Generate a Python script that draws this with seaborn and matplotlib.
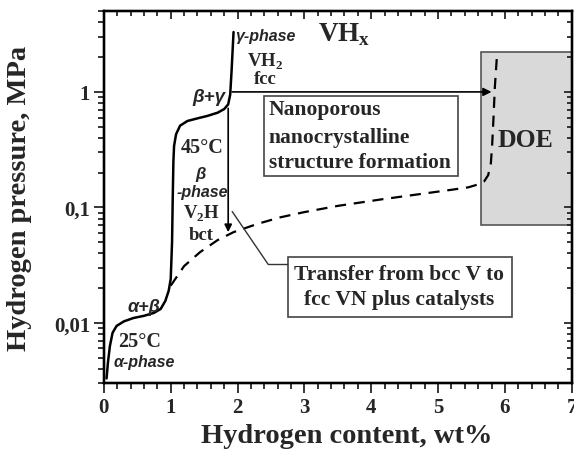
import matplotlib
matplotlib.use("Agg")
import matplotlib.pyplot as plt
from matplotlib.patches import Rectangle
from matplotlib.ticker import FixedLocator, MultipleLocator, LogLocator, NullFormatter
import seaborn as sns
import pandas as pd

# isotherm of VHx (solid)
iso_x = [0.04, 0.06, 0.09, 0.13, 0.19, 0.30, 0.44, 0.60, 0.75, 0.85, 0.92, 0.97, 1.00,
         1.02, 1.03, 1.04, 1.05, 1.08, 1.14, 1.25, 1.40, 1.55, 1.70, 1.80, 1.86, 1.89, 1.91, 1.94]
iso_p = [0.0033, 0.0045, 0.0063, 0.0082, 0.0094, 0.0103, 0.0110, 0.0115, 0.0122, 0.0132, 0.0155,
         0.019, 0.024, 0.05, 0.12, 0.25, 0.34, 0.43, 0.51, 0.56, 0.59, 0.62, 0.66, 0.71, 0.78,
         0.95, 1.5, 3.3]

# target curve (dashed)
tgt_x = [1.00, 1.20, 1.44, 1.70, 1.94, 2.30, 2.64, 3.00, 3.50, 4.14, 4.80, 5.20, 5.45, 5.60,
         5.69, 5.75, 5.79, 5.81, 5.83, 5.85, 5.88]
tgt_p = [0.021, 0.031, 0.041, 0.052, 0.061, 0.072, 0.082, 0.091, 0.103, 0.117, 0.132, 0.142,
         0.149, 0.158, 0.168, 0.19, 0.24, 0.35, 0.6, 1.1, 2.0]

x_ticks = [0, 1, 2, 3, 4, 5, 6, 7]
y_ticks = [0.01, 0.1, 1]
y_labels = ["0,01", "0,1", "1"]

sns.set_style("ticks")
plt.rcParams["font.family"] = ["Liberation Serif", "DejaVu Serif"]
plt.rcParams["font.weight"] = "bold"
plt.rcParams["mathtext.fontset"] = "custom"
plt.rcParams["mathtext.rm"] = "Liberation Serif:bold"
plt.rcParams["mathtext.bf"] = "Liberation Serif:bold"

fig = plt.figure(figsize=(5.74, 4.52), dpi=100)
ax = fig.add_axes([0.181, 0.150, 0.815, 0.823])

iso = pd.DataFrame({"x": iso_x, "p": iso_p})
tgt = pd.DataFrame({"x": tgt_x, "p": tgt_p})
sns.lineplot(data=iso, x="x", y="p", ax=ax, color="black", lw=1.8, sort=False)
sns.lineplot(data=tgt, x="x", y="p", ax=ax, color="black", lw=1.6, sort=False,
             linestyle=(0, (5, 3.5)))

ax.set_yscale("log")
ax.set_xlim(0, 7)
ax.set_ylim(0.003, 5)

# DOE region
ax.add_patch(Rectangle((5.65, 0.071), 1.35, 2.22 - 0.071, facecolor="#d9d9d9",
                       edgecolor="#555555", lw=1.2, zorder=0))
ax.text(6.31, 0.39, "DOE", fontsize=18.5, ha="center", va="center")

# boxes
ax.add_patch(Rectangle((2.39, 0.187), 5.30 - 2.39, 0.92 - 0.187, facecolor="white",
                       edgecolor="#444444", lw=1.2, zorder=1))
for txt, yy in zip(["Nanoporous", "nanocrystalline", "structure formation"], [0.712, 0.408, 0.248]):
    ax.text(2.47, yy, txt, fontsize=15.5, ha="left", va="center", zorder=2)

ax.add_patch(Rectangle((2.75, 0.0112), 6.10 - 2.75, 0.0369 - 0.0112, facecolor="white",
                       edgecolor="#444444", lw=1.2, zorder=1))
ax.text(4.42, 0.0263, "Transfer from bcc V to", fontsize=15.5, ha="center", va="center", zorder=2)
ax.text(4.42, 0.0160, "fcc VN plus catalysts", fontsize=15.5, ha="center", va="center", zorder=2)
ax.plot([1.92, 2.46, 2.75], [0.092, 0.032, 0.032], color="#333333", lw=1.0)

# arrows
ax.annotate("", xy=(5.80, 1.0), xytext=(1.92, 1.0),
            arrowprops=dict(arrowstyle="-|>", color="black", lw=1.2, mutation_scale=12,
                            shrinkA=0, shrinkB=0))
ax.annotate("", xy=(1.86, 0.061), xytext=(1.86, 0.72),
            arrowprops=dict(arrowstyle="-|>", color="black", lw=1.2, mutation_scale=11,
                            shrinkA=0, shrinkB=0))

# phase labels
ax.text(3.21, 3.2, r"VH$_\mathbf{x}$", fontsize=19.5, ha="left", va="center")
sans_it = dict(family=["Liberation Sans", "DejaVu Sans"], style="italic", fontweight="bold")
ax.text(2.42, 3.05, "γ-phase", ha="center", va="center", fontsize=11.5, **sans_it)
ax.text(2.42, 1.85, r"VH$_2$", fontsize=13.5, ha="center", va="center")
ax.text(2.42, 1.30, "fcc", fontsize=13.5, ha="center", va="center")
ax.text(1.57, 0.91, "β+γ", ha="center", va="center", fontsize=13.5, **sans_it)
ax.text(1.47, 0.33, "45°C", fontsize=14.5, ha="center", va="center")
ax.text(1.45, 0.195, "β", ha="center", va="center", fontsize=12, **sans_it)
ax.text(1.47, 0.136, "-phase", ha="center", va="center", fontsize=11.5, **sans_it)
ax.text(1.46, 0.09, r"V$_2$H", fontsize=13.5, ha="center", va="center")
ax.text(1.46, 0.058, "bct", fontsize=13.5, ha="center", va="center")
ax.text(0.60, 0.0138, "α+β", ha="center", va="center", fontsize=13, **sans_it)
ax.text(0.54, 0.0070, "25°C", fontsize=14.5, ha="center", va="center")
ax.text(0.60, 0.0046, "α-phase", ha="center", va="center", fontsize=11.5, **sans_it)

# ticks: outward on bottom/left, inward on top/right
ax.xaxis.set_major_locator(FixedLocator(x_ticks))
ax.xaxis.set_minor_locator(MultipleLocator(0.2))
ax.yaxis.set_major_locator(FixedLocator(y_ticks))
ax.set_yticklabels(y_labels)
ax.yaxis.set_minor_locator(LogLocator(base=10, subs=range(2, 10)))
ax.yaxis.set_minor_formatter(NullFormatter())
ax.tick_params(which="both", direction="out", labelsize=15, width=1.3, pad=3)
ax.tick_params(which="major", length=7)
ax.tick_params(which="minor", length=4)

axt = ax.twiny()
axt.set_xlim(ax.get_xlim())
axt.xaxis.set_major_locator(FixedLocator(x_ticks))
axt.xaxis.set_minor_locator(MultipleLocator(0.2))
axt.tick_params(which="both", direction="in", labeltop=False, width=1.3)
axt.tick_params(which="major", length=6)
axt.tick_params(which="minor", length=3.5)

axr = ax.twinx()
axr.set_yscale("log")
axr.set_ylim(ax.get_ylim())
axr.yaxis.set_major_locator(FixedLocator(y_ticks))
axr.yaxis.set_minor_locator(LogLocator(base=10, subs=range(2, 10)))
axr.yaxis.set_minor_formatter(NullFormatter())
axr.tick_params(which="both", direction="in", labelright=False, width=1.3)
axr.tick_params(which="major", length=6)
axr.tick_params(which="minor", length=3.5)

for a in (ax, axt, axr):
    for s in a.spines.values():
        s.set_linewidth(1.6)
        s.set_color("black")

ax.set_xlabel("Hydrogen content, wt%", fontsize=20.5, fontweight="bold")
ax.xaxis.set_label_coords(0.52, -0.108)
ax.set_ylabel("Hydrogen pressure, MPa", fontsize=20.5, fontweight="bold", labelpad=16)

fig.savefig("out.png", dpi=100)
